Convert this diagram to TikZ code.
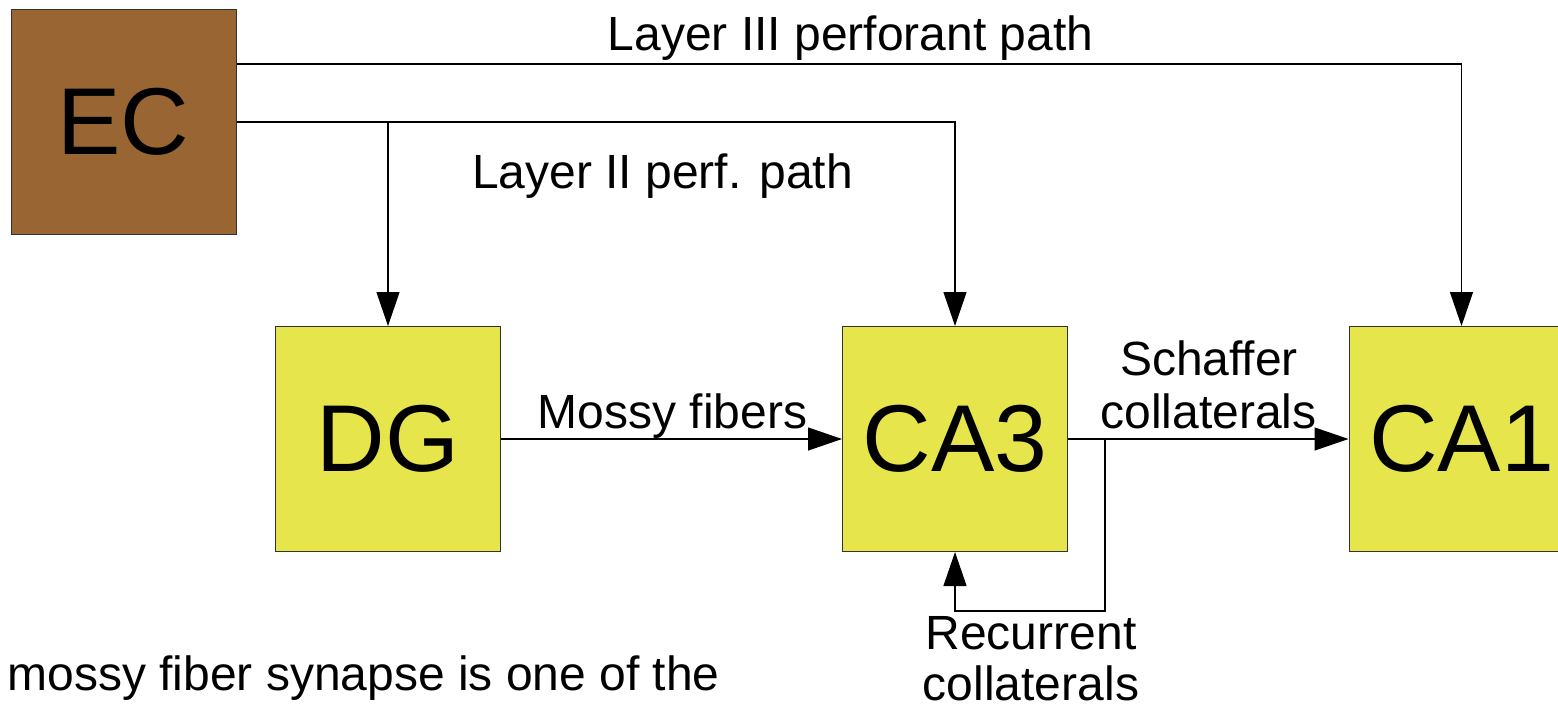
\documentclass[tikz,border=0pt]{standalone}
\usepackage{fontspec}
\setmainfont{Liberation Sans}
\usetikzlibrary{arrows.meta}
\definecolor{ecbrown}{RGB}{153,102,51}
\definecolor{boxyellow}{RGB}{230,230,76}
\definecolor{edgegrey}{RGB}{50,50,50}
\begin{document}
\begin{tikzpicture}[x=0.5pt,y=-0.5pt,
  region/.style={rectangle, draw=edgegrey, line width=0.5pt, minimum width=112.5pt, minimum height=112.5pt, inner sep=0pt, font=\fontsize{47.5pt}{50pt}\selectfont},
  lbl/.style={anchor=base, inner sep=0pt, font=\fontsize{24pt}{27pt}\selectfont},
  conn/.style={line width=0.6pt, black},
  arr/.style={conn, -{Triangle[width=11.5pt,length=17pt]}}]
\useasboundingbox (0,0) rectangle (1558,707);
\clip (0,0) rectangle (1558,707);
% regions
\node[region, fill=ecbrown] (EC) at (123.5,122) {EC};
\node[region, fill=boxyellow] (DG) at (388,439) {DG};
\node[region, fill=boxyellow] (CA3) at (955,439) {CA3};
\node[region, fill=boxyellow] (CA1) at (1461.5,439) {CA1};
% helper coordinates
\coordinate (l3) at (1461.5,64);
\coordinate (l2) at (955,122);
\coordinate (br) at (388,122);
\coordinate (r1) at (1105,439);
\coordinate (r2) at (1105,611);
% connectors
\draw[arr] (EC.east |- l3) -- (l3) -- (CA1.north);
\draw[arr] (EC.east) -- (l2) -- (CA3.north);
\draw[arr] (br) -- (DG.north);
\draw[arr] (DG.east) -- (CA3.west);
\draw[arr] (CA3.east) -- (CA1.west);
\draw[arr] (r1) -- (r2) -- (CA3.south |- r2) -- (CA3.south);
% labels
\node[lbl] (t3) at (850.5,50) {Layer III perforant path};
\node[lbl] (t2) at (662.5,188) {Layer II perf. path};
\node[lbl] (tm) at (672.5,428) {Mossy fibers};
\node[lbl] (ts1) at (1209,375) {Schaffer};
\node[lbl] (ts2) at (1208.5,428) {collaterals};
\node[lbl] (tr1) at (1031,649) {Recurrent};
\node[lbl] (tr2) at (1031,700) {collaterals};
\node[lbl, anchor=base west] (tb) at (7,690) {mossy fiber synapse is one of the};
\end{tikzpicture}
\end{document}
